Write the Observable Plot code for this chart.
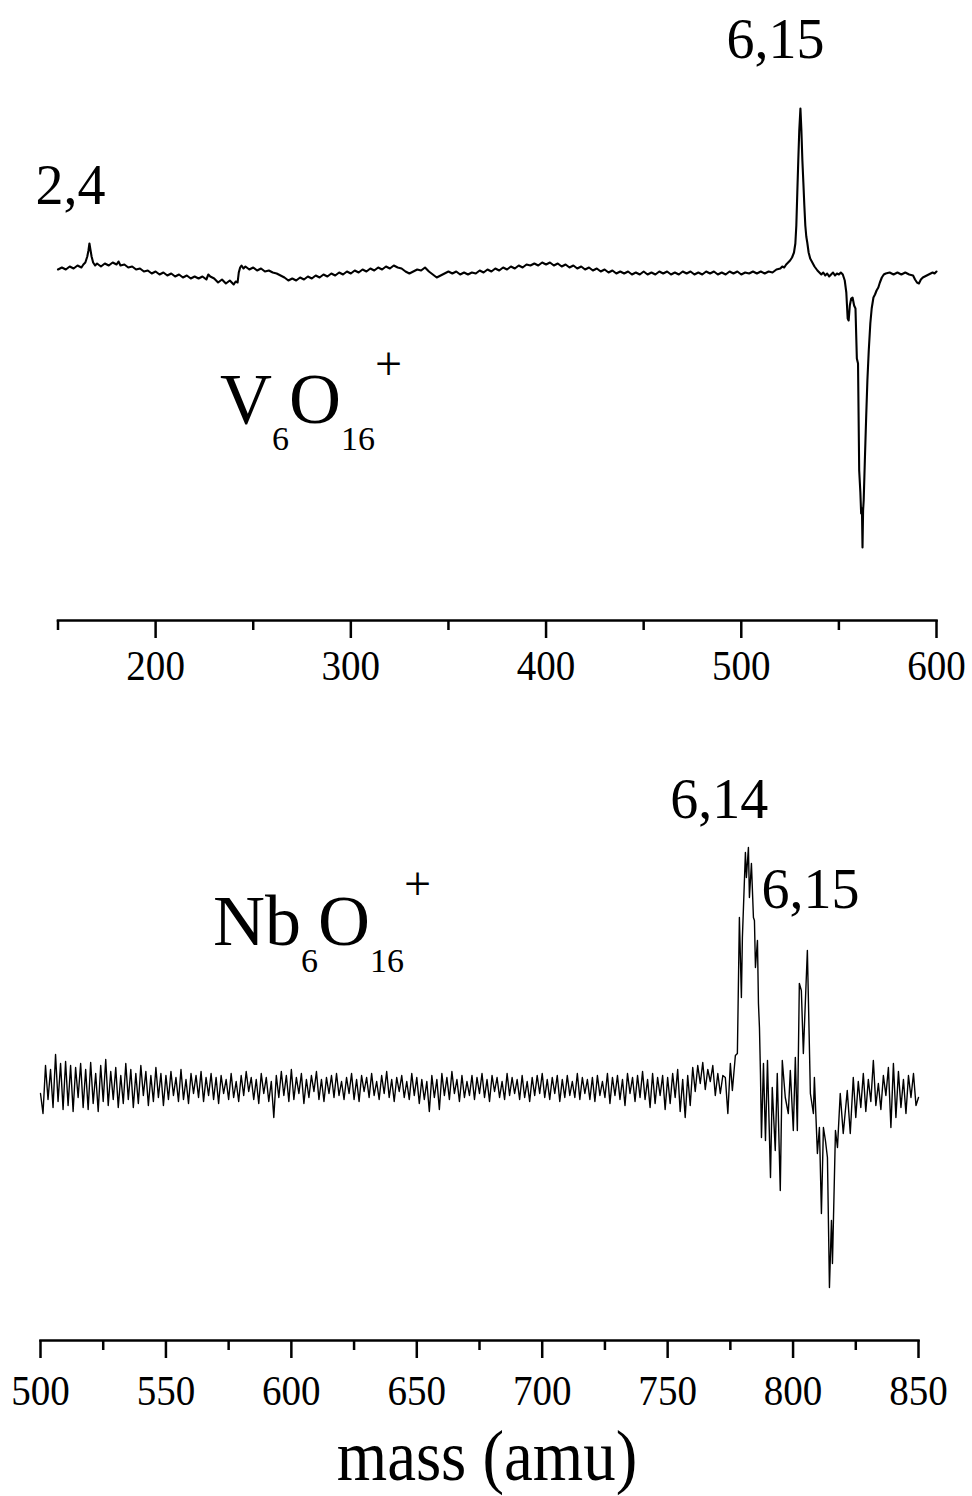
<!DOCTYPE html>
<html><head><meta charset="utf-8">
<script src="https://cdn.jsdelivr.net/npm/d3@7"></script>
<script src="https://cdn.jsdelivr.net/npm/@observablehq/plot@0.6"></script>
<style>body{margin:0;background:#fff} #chart{width:972px} #chart svg{display:block}</style>
</head><body><div id="chart"></div>
<script>
// ---------- data ----------
// Top panel: V6O16+ difference spectrum, [mass (amu), signal (arb.)]
const topSpectrum = [
[150,1],[152,3],[154,1],[156,4],[158,2],[160,5],[162,3],[163,6],[164,8],[165,14],[165.6,20],[166.1,27],[166.6,21],[167.2,14],[168,8],[169,5],[170,7],[172,4],[174,7],[176,5],[178,8],[180,6],[181,9],[182,5],[184,6],[186,3],[188,4],[190,1],[192,2],[194,-1],[196,0],[198,-3],[200,-1],[202,-4],[204,-2],[206,-5],[208,-3],[210,-6],[212,-4],[214,-7],[216,-5],[218,-8],[220,-6],[222,-8],[224,-6],[226,-9],[227,-4],[228,-6],[230,-8],[232,-12],[234,-9],[236,-13],[238,-10],[240,-14],[241,-11],[242,-12],[242.6,-2],[243.3,3],[244,5],[245,2],[246,4],[248,1],[250,3],[252,0],[254,2],[256,-1],[258,0],[260,-2],[262,-3],[264,-5],[266,-7],[268,-10],[270,-8],[272,-10],[274,-7],[276,-9],[278,-6],[280,-8],[282,-5],[284,-7],[286,-4],[288,-6],[290,-3],[292,-5],[294,-2],[296,-4],[298,-1],[300,-3],[302,0],[304,-2],[306,1],[308,-1],[310,2],[312,0],[314,3],[316,1],[318,4],[320,2],[322,5],[324,3],[326,2],[328,-1],[330,-3],[332,-1],[334,1],[336,0],[338,3],[340,-1],[342,-4],[344,-7],[346,-5],[348,-3],[350,-1],[352,-3],[354,-1],[356,-4],[358,-2],[360,-4],[362,-2],[364,-3],[366,0],[368,-2],[370,1],[372,-1],[374,2],[376,0],[378,3],[380,1],[382,4],[384,2],[386,5],[388,3],[390,6],[392,5],[394,7],[396,5],[398,8],[400,6],[402,8],[404,5],[406,7],[408,4],[410,6],[412,3],[414,5],[416,2],[418,4],[420,1],[422,3],[424,0],[426,2],[428,-1],[430,1],[432,-2],[434,0],[436,-3],[438,-1],[440,-3],[442,-1],[444,-4],[446,-2],[448,-4],[450,-1],[452,-4],[454,-2],[456,-4],[458,-1],[460,-3],[462,-1],[464,-4],[466,-2],[468,-4],[470,-1],[472,-3],[474,-1],[476,-4],[478,-2],[480,-4],[482,-1],[484,-3],[486,-1],[488,-4],[490,-2],[492,-4],[494,-1],[496,-3],[498,-1],[500,-4],[502,-2],[504,-3],[506,-1],[508,-3],[510,-1],[512,-3],[514,-1],[516,-2],[518,1],[520,2],[521,4],[522,3],[523,6],[524,8],[525,10],[526,13],[527,18],[527.7,27],[528.2,45],[528.7,78],[529.2,110],[529.7,140],[530.3,162],[530.8,140],[531.3,110],[531.8,88],[532.3,65],[532.8,45],[533.3,34],[533.8,28],[534.5,18],[535.3,12],[536.4,8],[537.5,4],[539,0],[540,-2],[541,-4],[542,-2],[543,-5],[544,-3],[545,-6],[546,-4],[547,-2],[548,-5],[549,-3],[550,-4],[551,-2],[552,-4],[553,-10],[553.8,-22],[554.5,-48],[555,-50],[555.6,-35],[556.3,-28],[557,-27],[557.8,-35],[558.5,-38],[559.2,-88],[559.8,-93],[560.4,-200],[561,-222],[561.4,-243],[561.8,-238],[562.1,-277],[562.4,-240],[562.7,-230],[563.3,-190],[564,-145],[564.6,-110],[565.3,-80],[566.1,-53],[566.8,-38],[567.7,-27],[568.5,-24],[569.3,-20],[570.2,-17],[571,-12],[572,-7],[573,-4],[574,-3],[576,-2],[578,-4],[580,-2],[582,-4],[584,-2],[586,-4],[588,-5],[589,-9],[590,-12],[591,-13],[592,-9],[593,-7],[594,-6],[596,-4],[598,-2],[599,-3],[600,-1]
];

// Bottom panel: Nb6O16+ difference spectrum
const bottomLeftStart = 500;   // amu, 1 amu sampling
const bottomLeftSignal = [
-6,-26,22,-12,18,-20,33,-14,24,-22,
26,-18,22,-24,20,-10,24,-20,18,-22,
25,-16,14,-24,22,-14,28,-18,16,-12,
20,-20,12,-16,24,-12,18,-20,14,-16,
22,-8,16,-18,12,-14,20,-10,14,-18,
12,-12,16,-8,10,-14,18,-12,8,-16,
14,-6,12,-10,16,-14,10,-8,14,-12,
10,-16,12,-6,8,-12,14,-10,6,-14,
12,-8,16,-4,10,-12,8,-16,14,-6,
10,-14,6,-30,12,-10,16,-8,12,-14,
18,-12,10,-6,14,-16,8,-10,12,-4,
16,-12,8,-14,10,-6,12,-10,14,-8,
6,-12,10,-6,14,-12,8,-14,12,-4,
10,-10,14,-8,6,-12,12,-6,16,-10,
8,-14,10,-4,12,-10,6,-12,14,-8,
10,-16,8,-12,6,-24,12,-10,8,-22,
14,-8,10,-12,16,-6,8,-14,12,-10,
6,-8,12,-12,10,-6,14,-10,8,-14,
12,-4,10,-10,6,-12,14,-8,10,-6,
8,-12,12,-10,6,-14,10,-8,12,-6,
14,-10,8,-12,10,-6,12,-14,8,-10,
12,-8,6,-10,14,-12,10,-6,8,-12,
10,-14,12,-8,6,-10,14,-16,10,-8,
12,-12,8,-18,14,-6,10,-14,12,-10,
16,-12,8,-20,14,-16,10,-8,12,-22,
10,-16,14,-10,18,-24,8,-30,12,-18,
20,-4,22,4,25,-2,18,6,22,-8,
14,-6,12,10
];
const bottomPeak = [
[774,-26],[775,24],[775.8,-3],[777,32],[777.8,34],[778.6,170],[779.4,90],[779.8,150],[781,235],[781.4,210],[782.2,240],[782.6,190],[783.4,224],[784.2,170],[784.6,167],[785,120],[785.8,147],[786.2,84],[786.6,60],[787,14],[787.4,-50],[788.2,24],[789,-53],[789.8,27],[791,-90],[791.7,0],[792.9,-63],[793.7,14],[794.9,-103],[795.7,27],[796.9,-10],[798.1,-26],[798.9,17],[800.1,-43],[800.9,30],[801.7,-43],[802.5,104],[803.3,97],[804.1,34],[805.7,137],[806.9,-6],[808.1,-26],[808.5,10],[809.7,-66],[810.5,-40],[811.3,-126],[812.1,-40],[812.9,-53],[813.7,-70],[814.5,-200],[815.3,-133],[815.7,-176],[816.9,-43],[817.7,-60],[818.8,-6],[820,-46],[821.6,-3],[822.8,-46]
];
const bottomRightStart = 824;
const bottomRightSignal = [10,-30,6,-20,14,-24,8,-14,27,-18,4,-22,12,-8,20,-40,24,-30,16,-20,8,-26,12,-10,14,-18,-10];

const topMajorTicks = [200, 300, 400, 500, 600];
const topMinorTicks = [150, 250, 350, 450, 550];
const bottomMajorTicks = [500, 550, 600, 650, 700, 750, 800, 850];
const bottomMinorTicks = [525, 575, 625, 675, 725, 775, 825];

const topLabels = [{mass: 517.5, signal: 230, text: "6,15"}, {mass: 156.4, signal: 84, text: "2,4"}];
const bottomLabels = [{mass: 770.6, signal: 287, text: "6,14"}, {mass: 806.9, signal: 197, text: "6,15"}];
const topFormula = {mass: 233.2, signal: -153, parts: [["V",0,72],["6",27,34],["O",0,72],["16",27,34],["+",-43,48]]};
const bottomFormula = {mass: 569, signal: 142, parts: [["Nb",0,72],["6",27,34],["O",0,72],["16",27,34],["+",-45,48]]};
const xAxisLabel = "mass (amu)";

// ---------- drawing ----------
const font = "'Liberation Serif', 'Times New Roman', serif";
const topData = topSpectrum.map(([mass, signal]) => ({mass, signal}));
const bottomData = [
  ...bottomLeftSignal.map((signal, i) => ({mass: bottomLeftStart + i, signal})),
  ...bottomPeak.map(([mass, signal]) => ({mass, signal})),
  ...bottomRightSignal.map((signal, i) => ({mass: bottomRightStart + i, signal}))
];

function addFormula(svg, plot, f) {
  const x = plot.scale("x").apply(f.mass), y = plot.scale("y").apply(f.signal);
  const t = d3.select(svg).append("text").attr("x", x).attr("y", y)
    .attr("text-anchor", "start")
    .attr("font-family", font).attr("fill", "#000");
  let prev = 0;
  for (const [s, off, size] of f.parts) {
    t.append("tspan").attr("dy", off - prev).attr("font-size", size).text(s);
    prev = off;
  }
}
// slightly condensed tick labels, like the original figure
function condenseTicks(svg, k) {
  d3.select(svg).selectAll('g[aria-label="x-axis tick label"] text').each(function () {
    const t = this.getAttribute("transform") || "";
    this.setAttribute("transform", t + ` scale(${k},1)`);
  });
}

const topPlot = Plot.plot({
  width: 972, height: 700,
  marginLeft: 57.5, marginRight: 36, marginTop: 0, marginBottom: 80,
  x: {domain: [150, 600], label: null},
  y: {domain: [-350, 270], axis: null},
  style: {fontFamily: font, fontSize: "42px", color: "#000", background: "#fff", overflow: "visible"},
  marks: [
    Plot.frame({anchor: "bottom", strokeWidth: 2.5}),
    Plot.axisX(topMajorTicks, {tickSize: 18, tickPadding: 12, strokeWidth: 2.5, fontSize: 42, label: null}),
    Plot.axisX(topMinorTicks, {tickSize: 10, strokeWidth: 2.5, tickFormat: () => "", label: null}),
    Plot.line(topData, {x: "mass", y: "signal", stroke: "#000", strokeWidth: 2.1}),
    Plot.text(topLabels, {x: "mass", y: "signal", text: "text", fontSize: 56, lineAnchor: "middle", fill: "#000"})
  ]
});
addFormula(topPlot, topPlot, topFormula);
condenseTicks(topPlot, 0.93);

const bottomPlot = Plot.plot({
  width: 972, height: 796,
  marginLeft: 40, marginRight: 54, marginTop: 0, marginBottom: 156,
  x: {domain: [500, 850], label: null},
  y: {domain: [-253, 387], axis: null},
  style: {fontFamily: font, fontSize: "42px", color: "#000", background: "#fff", overflow: "visible"},
  marks: [
    Plot.frame({anchor: "bottom", strokeWidth: 2.5}),
    Plot.axisX(bottomMajorTicks, {tickSize: 18, tickPadding: 17, strokeWidth: 2.5, fontSize: 42, label: null}),
    Plot.axisX(bottomMinorTicks, {tickSize: 10, strokeWidth: 2.5, tickFormat: () => "", label: null}),
    Plot.line(bottomData, {x: "mass", y: "signal", stroke: "#000", strokeWidth: 1.4}),
    Plot.text(bottomLabels, {x: "mass", y: "signal", text: "text", fontSize: 56, lineAnchor: "middle", fill: "#000"})
  ]
});
addFormula(bottomPlot, bottomPlot, bottomFormula);
condenseTicks(bottomPlot, 0.93);
d3.select(bottomPlot).append("text")
  .attr("transform", "translate(487,780) scale(0.9,1)")
  .attr("text-anchor", "middle").attr("font-family", font).attr("font-size", 72).attr("fill", "#000")
  .text(xAxisLabel);

const chart = document.getElementById("chart");
chart.appendChild(topPlot);
chart.appendChild(bottomPlot);
</script>
</body></html>
